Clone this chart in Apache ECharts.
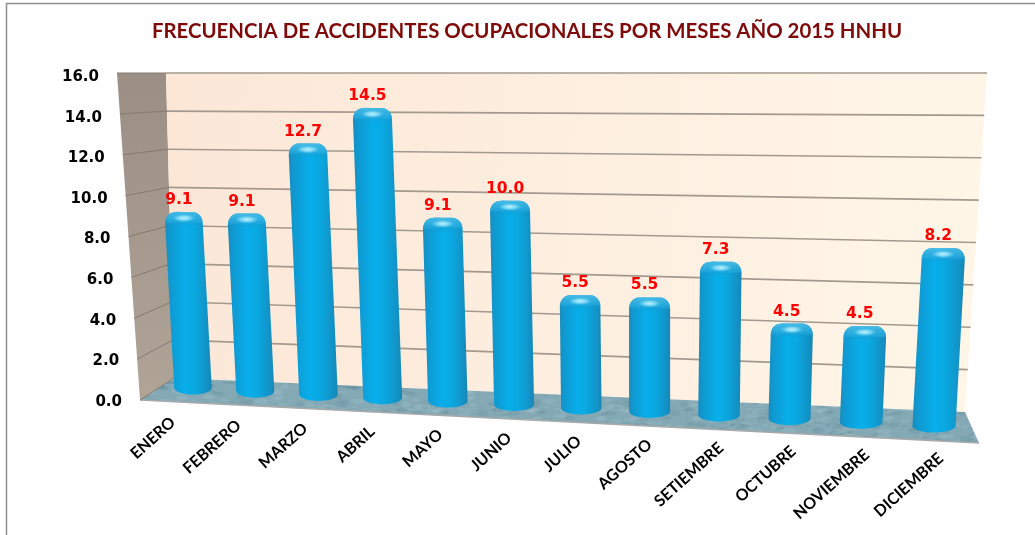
<!DOCTYPE html>
<html><head><meta charset="utf-8">
<style>html,body{margin:0;padding:0;background:#fff}#c{width:1035px;height:535px}</style>
<script src="https://cdn.jsdelivr.net/npm/echarts@6/dist/echarts.min.js"></script></head>
<body><div id="c"></div>
<script>
const categories = ['ENERO','FEBRERO','MARZO','ABRIL','MAYO','JUNIO','JULIO','AGOSTO','SETIEMBRE','OCTUBRE','NOVIEMBRE','DICIEMBRE'];
const values = [9.1,9.1,12.7,14.5,9.1,10.0,5.5,5.5,7.3,4.5,4.5,8.2];
const yTicks = [0,2,4,6,8,10,12,14,16];
const titleText = 'FRECUENCIA DE ACCIDENTES OCUPACIONALES POR MESES AÑO 2015 HNHU';

// flat plot area of the axes; everything is warped from it into the 3-D look
const G = {left:130, top:75, width:850, height:325};
const lerp=(a,b,t)=>a+(b-a)*t;
const persp=(s,c)=>s/(s+c*(1-s));
function flat(p){ // pixel from api.coord -> s (0..1 first..last category), w (0..1 value)
  return {s:((p[0]-G.left)/G.width*categories.length-0.5)/(categories.length-1), w:(G.top+G.height-p[1])/G.height};
}
// bar plane (mid depth)
function barPlane(p){
  const {s,w}=flat(p);
  const fb=persp(s,1.09), ft=persp(s,1.12);
  const xb=lerp(193,934,fb), xt=lerp(177,952,ft);
  const base=lerp(388,426,fb);
  return {x:lerp(xb,xt,w), y:lerp(base,77,w), base, xb, half:lerp(18.8,21.6,fb), fb};
}
// back wall
const backY=(u,w)=>lerp(lerp(378,73,w),lerp(412,73,w),u);
const backX=(u,w)=>lerp(lerp(174,166,w),lerp(965,987,w),u);
const frontLeft=(w)=>[lerp(140,117,w),lerp(400,73,w)];

function noiseCanvas(){
  const c=document.createElement('canvas');c.width=c.height=96;
  const x=c.getContext('2d');x.fillStyle='#84a9b5';x.fillRect(0,0,96,96);
  let h=12345;
  for(let k=0;k<200;k++){
    h=(h*1103515245+12345)&0x7fffffff;const a=(h>>8)%96;
    h=(h*1103515245+12345)&0x7fffffff;const b=(h>>8)%96;
    h=(h*1103515245+12345)&0x7fffffff;const r=1.5+((h>>8)%30)/10;
    x.fillStyle=(k%2)?'rgba(160,192,202,.3)':'rgba(100,140,155,.28)';
    x.beginPath();x.ellipse(a,b,r*1.8,r*.7,0,0,7);x.fill();
  }
  return c;
}
const floorPattern=noiseCanvas();

function renderWalls(params,api){
  const poly=(pts,fill,extra)=>Object.assign({type:'polygon',shape:{points:pts},style:{fill}},extra||{});
  const lg=(x,y,x2,y2,a,b)=>new echarts.graphic.LinearGradient(x,y,x2,y2,[{offset:0,color:a},{offset:1,color:b}]);
  return {type:'group',children:[
    poly([[117,73],[166,73],[174,378],[140,400]],lg(0,0,0,1,'#9b8e85','#b0a497')),
    poly([[166,73],[987,73],[965,412],[174,378]],lg(0,0,1,0.15,'#fce7d7','#fff6e8')),
    poly([[174,378],[965,412],[979,443],[140,400]],{image:floorPattern,repeat:'repeat'}),
    {type:'polyline',shape:{points:[[140,400],[979,443]]},style:{stroke:'#a9a9a9',lineWidth:1.5,fill:null}}
  ]};
}
function renderGrid(params,api){
  const v=api.value(0);
  const w=flat(api.coord([0,v])).w;
  const f=frontLeft(w);
  const kids=[{type:'polyline',shape:{points:[f,[backX(0,w),backY(0,w)]]},style:{stroke:'#857a70',lineWidth:1,fill:null}}];
  if(v>0) kids.push({type:'polyline',shape:{points:[[backX(0,w),backY(0,w)],[backX(1,w),backY(1,w)]]},style:{stroke:'#a39a8f',lineWidth:1.6,fill:null}});
  return {type:'group',children:kids};
}
function renderBar(params,api){
  const i=api.value(0), v=api.value(1);
  const t=barPlane(api.coord([i,v]));
  const b=barPlane(api.coord([i,0]));
  const h=t.half, rx=10, ry=9, dome=3, by=6.5;
  const pts=[];
  // rounded, slightly domed top
  for(let a=180;a<=270;a+=15){const q=a*Math.PI/180;pts.push([t.x-h+rx+rx*Math.cos(q),t.y+ry+dome+(ry+dome-1)*Math.sin(q)]);}
  for(let a=270;a<=360;a+=15){const q=a*Math.PI/180;pts.push([t.x+h-rx+rx*Math.cos(q),t.y+ry+dome+(ry+dome-1)*Math.sin(q)]);}
  pts.splice(6,0,[t.x,t.y]);
  // elliptical bottom
  for(let a=0;a<=180;a+=10){const q=a*Math.PI/180;pts.push([b.x+h*Math.cos(q),b.y+by*Math.sin(q)]);}
  const body=new echarts.graphic.LinearGradient(0,0,1,0,[
    {offset:0,color:'#1a8dbb'},{offset:.1,color:'#1098d0'},{offset:.42,color:'#08aeea'},
    {offset:.62,color:'#0aa9e2'},{offset:.9,color:'#1292c6'},{offset:1,color:'#1a86b2'}]);
  const capGrad=new echarts.graphic.LinearGradient(0,0,0,1,[
    {offset:0,color:'rgba(80,190,230,.95)'},{offset:.7,color:'rgba(40,170,222,.7)'},{offset:1,color:'rgba(10,140,195,0)'}]);
  const glow=new echarts.graphic.RadialGradient(.5,.5,.5,[
    {offset:0,color:'rgba(190,242,255,1)'},{offset:.5,color:'rgba(150,228,248,.75)'},{offset:1,color:'rgba(90,205,240,0)'}]);
  const capPts=pts.slice(0,15).concat([[t.x+h,t.y+15],[t.x-h,t.y+15]]);
  const fx=lerp(173,941,persp(flat(api.coord([i,0])).s,1.07));
  const fy=lerp(420,456,b.fb);
  return {type:'group',children:[
    {type:'polygon',shape:{points:pts},style:{fill:body}},
    {type:'polygon',shape:{points:capPts},style:{fill:capGrad}},
    {type:'circle',x:t.x,y:t.y+7,scaleX:3,shape:{cx:0,cy:0,r:4},style:{fill:glow}},
    {type:'text',x:t.x-5,y:t.y-11,style:{text:v.toFixed(1),fill:'#ff0000',align:'center',verticalAlign:'middle',font:'bold 15.5px "DejaVu Sans"'}},
    {type:'text',x:fx,y:fy,rotation:42*Math.PI/180,style:{text:categories[i],fill:'#000',align:'right',verticalAlign:'middle',font:'bold 16px Lato'}}
  ]};
}
const rich={};
yTicks.forEach(v=>{rich['t'+v]={padding:[4,(v/16)*23,0,0],fontFamily:'DejaVu Sans',fontWeight:'bold',fontSize:15,color:'#000'};});

const chart=echarts.init(document.getElementById('c'),null,{renderer:'canvas'});
chart.setOption({
  animation:false,
  backgroundColor:'#fff',
  title:{text:titleText,left:522,top:16,textAlign:'center',textStyle:{color:'#7f0a0a',fontFamily:'Lato',fontWeight:'bold',fontSize:20.4}},
  grid:{left:G.left,top:G.top,width:G.width,height:G.height,containLabel:false},
  xAxis:{type:'category',data:categories,axisLine:{show:false},axisTick:{show:false},axisLabel:{show:false},splitLine:{show:false}},
  yAxis:{type:'value',min:0,max:16,interval:2,axisLine:{show:false},axisTick:{show:false},splitLine:{show:false},
    axisLabel:{margin:8,formatter:v=>`{t${v}|${v.toFixed(1)}}`,rich}},
  graphic:[
    {type:'polyline',shape:{points:[[6.5,535],[6.5,3.5],[1035,3.5]]},style:{stroke:'#8f8f8f',lineWidth:1.5,fill:null},silent:true}
  ],
  series:[
    {type:'custom',silent:true,z:1,renderItem:renderWalls,data:[[0]],encode:{x:0}},
    {type:'custom',silent:true,z:2,renderItem:renderGrid,data:yTicks.map(v=>[v]),encode:{y:0}},
    {type:'custom',silent:true,z:3,renderItem:renderBar,data:values.map((v,i)=>[i,v]),encode:{x:0,y:1}}
  ]
});
</script></body></html>
